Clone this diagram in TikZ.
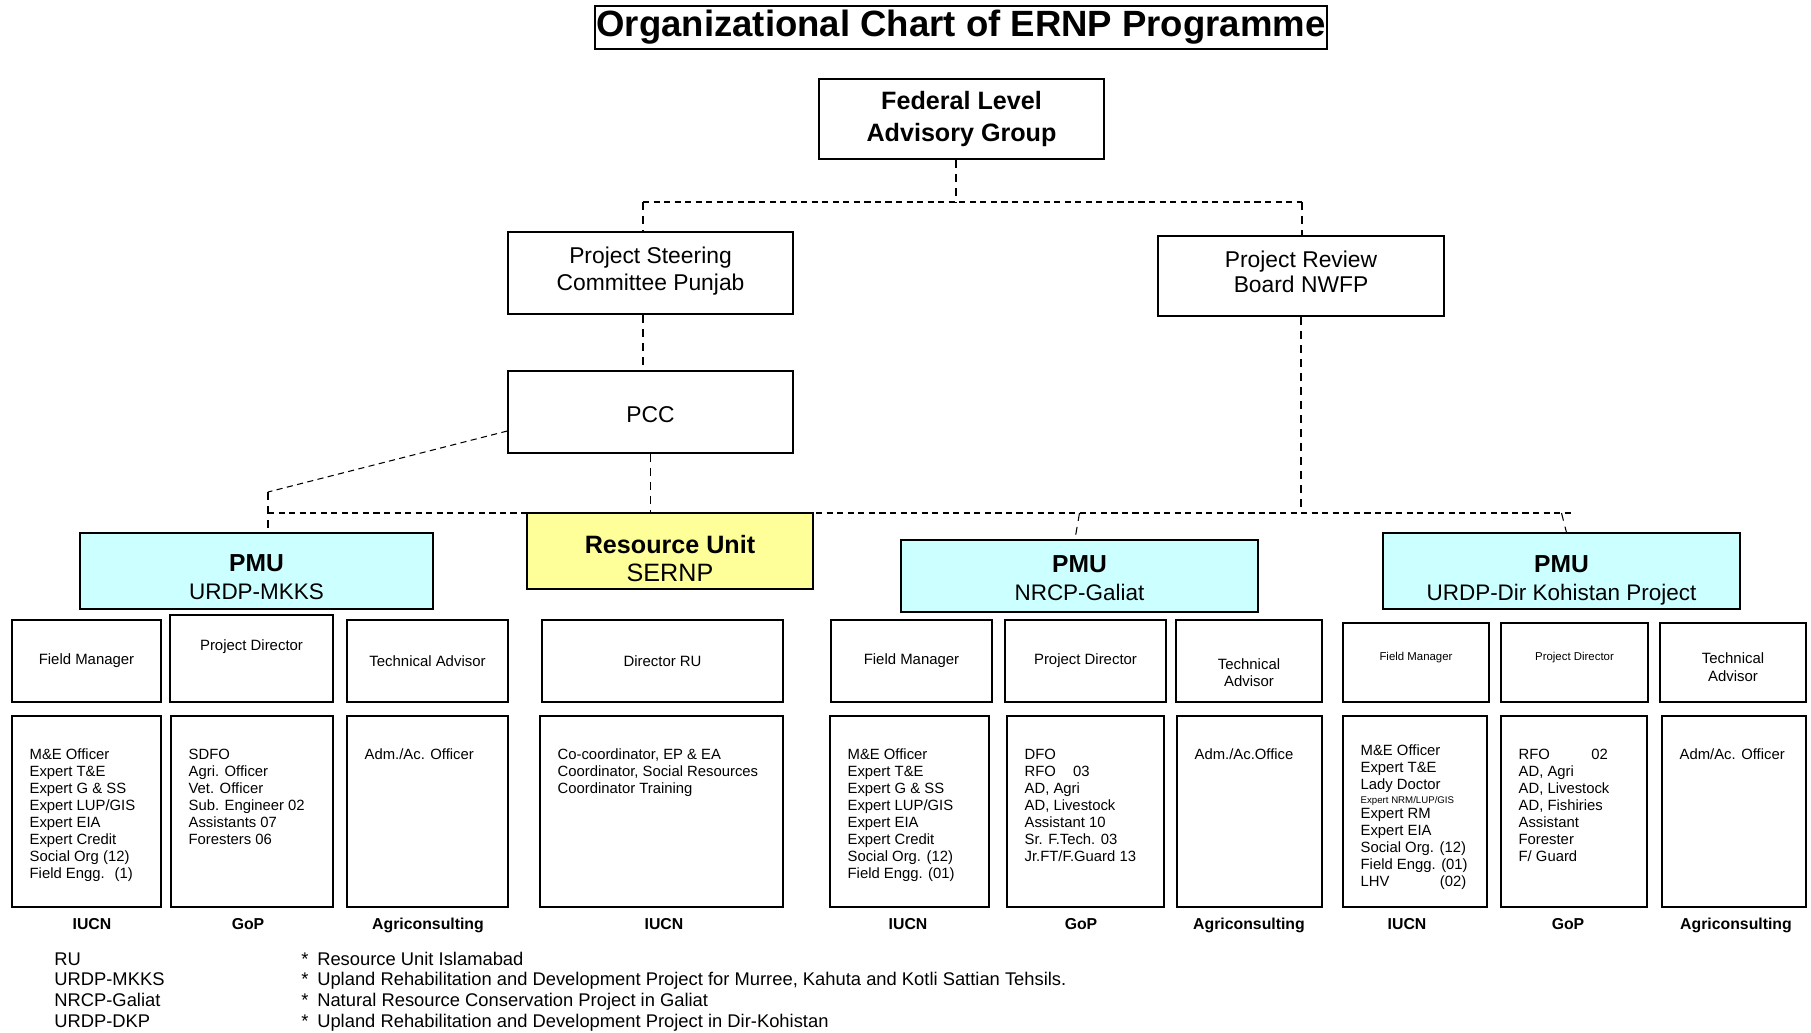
\documentclass[tikz,border=0pt]{standalone}
\usepackage{fontspec}
\setmainfont{Liberation Sans}
\definecolor{pmucyan}{RGB}{204,255,255}
\definecolor{ruyellow}{RGB}{255,255,153}
\tikzset{
  box/.style={draw, line width=0.8pt, align=center, inner sep=0pt},
  boxsize/.style 2 args={minimum width=#1*0.02cm, minimum height=#2*0.02cm},
  head/.style={font=\fontsize{13}{15.2}\selectfont},
  unit/.style={box, text depth=0pt, font=\fontsize{12.8}{16}\selectfont},
  post/.style={box, font=\fontsize{8.5}{10.2}\selectfont},
  staff/.style={box, boxsize={#1}{191}},
  list/.style={anchor=north west, align=left, inner sep=0pt, font=\fontsize{8.45}{9.7}\selectfont},
  org/.style={anchor=base, inner sep=0pt, font=\fontsize{9}{11}\selectfont\bfseries},
  foot/.style={anchor=base west, inner sep=0pt, font=\fontsize{10.45}{12}\selectfont},
  vlink/.style={line width=0.6pt, dash pattern=on 4.5pt off 3.5pt},
  hlink/.style={line width=0.6pt, dash pattern=on 3.5pt off 2.5pt}
}
\begin{document}
\begin{tikzpicture}[x=0.02cm, y=-0.02cm]
\useasboundingbox (0,0) rectangle (1811,1032);

\node[box, boxsize={732}{43}, line width=1.2pt, font=\fontsize{20.8}{24}\selectfont\bfseries] (title) at (961,27.5) {Organizational Chart of ERNP Programme};
\node[box, boxsize={285}{80}, font=\fontsize{14.3}{17.7}\selectfont\bfseries] (flag) at (961.5,119) {Federal Level\\Advisory Group};
\node[box, head, boxsize={285}{82}, text depth=0pt, text height=19.6pt] (psc) at (650.5,273) {Project Steering\\Committee Punjab};
\node[box, head, boxsize={286}{80}, font=\fontsize{13}{14.2}\selectfont, text depth=0pt, text height=18.4pt] (prb) at (1301,276) {Project Review\\Board NWFP};
\node[box, head, boxsize={285}{82}, text depth=0pt, text height=11.9pt] (pcc) at (650.5,412) {PCC};

\node[unit, fill=pmucyan, boxsize={353}{76}, text height=32pt] (mkks) at (256.5,571) {\textbf{\fontsize{14}{16}\selectfont PMU}\\URDP-MKKS};
\node[unit, fill=ruyellow, boxsize={286}{76}, text height=34.8pt, font=\fontsize{14.3}{16}\selectfont] (ru) at (670,551) {\textbf{Resource Unit}\\SERNP};
\node[unit, fill=pmucyan, boxsize={357}{72}, text height=28.4pt] (nrcp) at (1079.5,576) {\textbf{\fontsize{14}{16}\selectfont PMU}\\NRCP-Galiat};
\node[unit, fill=pmucyan, boxsize={357}{76}, text height=33.3pt] (dkp) at (1561.5,571) {\textbf{\fontsize{14}{16}\selectfont PMU}\\URDP-Dir Kohistan Project};

\node[post, boxsize={149}{82}] (mkks-fm) at (86.5,661) {Field Manager};
\node[post, boxsize={163}{87}, text depth=14.8pt] (mkks-pd) at (251.5,658.5) {Project Director};
\node[post, boxsize={161}{82}] (mkks-ta) at (427.5,661) {Technical Advisor};
\node[post, boxsize={241}{82}] (ru-dir) at (662.5,661) {Director RU};
\node[post, boxsize={161}{82}] (nrcp-fm) at (911.5,661) {Field Manager};
\node[post, boxsize={161}{82}] (nrcp-pd) at (1085.5,661) {Project Director};
\node[post, boxsize={146}{82}, text height=29.6pt] (nrcp-ta) at (1249,661) {Technical\\Advisor};
\node[post, boxsize={146}{79}, font=\fontsize{6.5}{8}\selectfont, text depth=6.6pt] (dkp-fm) at (1416,662.5) {Field Manager};
\node[post, boxsize={147}{79}, font=\fontsize{6.5}{8}\selectfont, text depth=6.6pt] (dkp-pd) at (1574.5,662.5) {Project Director};
\node[post, boxsize={146}{79}, text height=21.6pt] (dkp-ta) at (1733,662.5) {Technical\\Advisor};

\node[staff=149] (mkks-iucn) at (86.5,811.5) {};
\node[staff=162] (mkks-gop) at (252,811.5) {};
\node[staff=161] (mkks-agri) at (427.5,811.5) {};
\node[staff=243] (ru-iucn) at (661.5,811.5) {};
\node[staff=159] (nrcp-iucn) at (909.5,811.5) {};
\node[staff=157] (nrcp-gop) at (1085.5,811.5) {};
\node[staff=145] (nrcp-agri) at (1249.5,811.5) {};
\node[staff=144] (dkp-iucn) at (1415,811.5) {};
\node[staff=146] (dkp-gop) at (1574,811.5) {};
\node[staff=144] (dkp-agri) at (1734,811.5) {};

\node[list] (mkks-iucn-list) at ([shift={(18,33)}]mkks-iucn.north west) {M\&E Officer\\Expert T\&E\\Expert G \& SS\\Expert LUP/GIS\\Expert EIA\\Expert Credit\\Social Org (12)\\Field Engg.\hspace{5.7pt}(1)};
\node[list] (mkks-gop-list) at ([shift={(18,33)}]mkks-gop.north west) {SDFO\\Agri. Officer\\Vet. Officer\\Sub. Engineer 02\\Assistants 07\\Foresters 06};
\node[list] (mkks-agri-list) at ([shift={(18,33)}]mkks-agri.north west) {Adm./Ac. Officer};
\node[list] (ru-iucn-list) at ([shift={(18,33)}]ru-iucn.north west) {Co-coordinator, EP \& EA\\Coordinator, Social Resources\\Coordinator Training};
\node[list] (nrcp-iucn-list) at ([shift={(18,33)}]nrcp-iucn.north west) {M\&E Officer\\Expert T\&E\\Expert G \& SS\\Expert LUP/GIS\\Expert EIA\\Expert Credit\\Social Org. (12)\\Field Engg. (01)};
\node[list] (nrcp-gop-list) at ([shift={(18,33)}]nrcp-gop.north west) {DFO\\RFO\hspace{9.7pt}03\\AD, Agri\\AD, Livestock\\Assistant 10\\Sr. F.Tech. 03\\Jr.FT/F.Guard 13};
\node[list] (nrcp-agri-list) at ([shift={(18,33)}]nrcp-agri.north west) {Adm./Ac.Office};
\node[list] (dkp-iucn-list) at ([shift={(18,29)}]dkp-iucn.north west) {M\&E Officer\\Expert T\&E\\Lady Doctor\\[-1.7pt]{\fontsize{5.5}{6}\selectfont Expert NRM/LUP/GIS}\\[-1.2pt]Expert RM\\Expert EIA\\Social Org. (12)\\Field Engg. (01)\\\rlap{LHV}\phantom{Field Engg.}\ (02)};
\node[list] (dkp-gop-list) at ([shift={(18,33)}]dkp-gop.north west) {RFO\hspace{23.5pt}02\\AD, Agri\\AD, Livestock\\AD, Fishiries\\Assistant\\Forester\\F/ Guard};
\node[list] (dkp-agri-list) at ([shift={(18,33)}]dkp-agri.north west) {Adm/Ac. Officer};

\node[org] (mkks-iucn-org) at (92,929.6) {IUCN};
\node[org] (mkks-gop-org) at (248,929.6) {GoP};
\node[org] (mkks-agri-org) at (428,929.6) {Agriconsulting};
\node[org] (ru-iucn-org) at (664,929.6) {IUCN};
\node[org] (nrcp-iucn-org) at (908,929.6) {IUCN};
\node[org] (nrcp-gop-org) at (1081,929.6) {GoP};
\node[org] (nrcp-agri-org) at (1249,929.6) {Agriconsulting};
\node[org] (dkp-iucn-org) at (1407,929.6) {IUCN};
\node[org] (dkp-gop-org) at (1568,929.6) {GoP};
\node[org] (dkp-agri-org) at (1736,929.6) {Agriconsulting};

\coordinate (flagdrop) at (956,202);
\coordinate (topbus) at (643,202);
\coordinate (topbusr) at (1302,202);
\draw[vlink] (flagdrop |- flag.south) -- (flagdrop);
\draw[hlink] (topbus) -- (topbusr);
\draw[vlink] (topbus) -- (topbus |- psc.north);
\draw[vlink] (topbusr) -- (topbusr |- prb.north);
\draw[vlink] (topbus |- psc.south) -- (topbus |- pcc.north);

\coordinate (mkksdrop) at (268,492);
\coordinate (lowbus) at (268,513);
\coordinate (lowbusr) at (1573,513);
\draw[hlink] (pcc.west |- 0,431) -- (mkksdrop);
\draw[vlink] (mkksdrop) -- (mkksdrop |- mkks.north);
\draw[hlink] (lowbus) -- (lowbusr);
\draw[vlink] (pcc.south) -- (pcc.south |- lowbus);
\draw[vlink] (prb.south) -- (prb.south |- lowbus);
\draw[vlink] (nrcp.north |- lowbus) -- ([xshift=-2.6pt]nrcp.north);
\draw[vlink] (dkp.north |- lowbus) -- ([xshift=2.8pt]dkp.north);

\node[foot] (ru-abbr) at (54,965) {RU};
\node[foot] (ru-desc) at (301,965) {*\hspace{5pt}Resource Unit Islamabad};
\node[foot] (mkks-abbr) at (54,985) {URDP-MKKS};
\node[foot] (mkks-desc) at (301,985) {*\hspace{5pt}Upland Rehabilitation and Development Project for Murree, Kahuta and Kotli Sattian Tehsils.};
\node[foot] (nrcp-abbr) at (54,1006) {NRCP-Galiat};
\node[foot] (nrcp-desc) at (301,1006) {*\hspace{5pt}Natural Resource Conservation Project in Galiat};
\node[foot] (dkp-abbr) at (54,1027) {URDP-DKP};
\node[foot] (dkp-desc) at (301,1027) {*\hspace{5pt}Upland Rehabilitation and Development Project in Dir-Kohistan};
\end{tikzpicture}
\end{document}
